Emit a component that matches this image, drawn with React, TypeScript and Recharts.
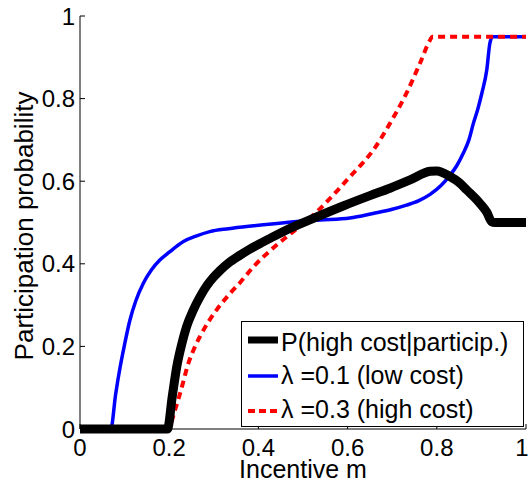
import { LineChart, Line, XAxis, YAxis, Legend } from "recharts";

// incentive m and participation probability
const lowCostM = [0, 0.069, 0.08, 0.09, 0.1, 0.112, 0.125, 0.142, 0.16, 0.179, 0.2, 0.232, 0.26, 0.291, 0.333, 0.389, 0.463, 0.538, 0.605, 0.657, 0.7, 0.732, 0.76, 0.785, 0.81, 0.83, 0.845, 0.859, 0.872, 0.882, 0.892, 0.901, 0.912, 0.919, 0.925, 1];
const lowCostP = [0, 0, 0.085, 0.15, 0.205, 0.264, 0.31, 0.353, 0.385, 0.409, 0.428, 0.454, 0.467, 0.478, 0.485, 0.492, 0.5, 0.506, 0.511, 0.522, 0.532, 0.542, 0.553, 0.568, 0.59, 0.615, 0.638, 0.667, 0.7, 0.74, 0.775, 0.813, 0.869, 0.934, 0.95, 0.95];

const highCostM = [0, 0.197, 0.213, 0.228, 0.243, 0.256, 0.269, 0.287, 0.306, 0.333, 0.36, 0.389, 0.433, 0.478, 0.531, 0.575, 0.602, 0.628, 0.658, 0.695, 0.732, 0.762, 0.785, 0.79, 1];
const highCostP = [0, 0, 0.046, 0.1, 0.159, 0.195, 0.224, 0.258, 0.288, 0.324, 0.356, 0.393, 0.438, 0.478, 0.526, 0.575, 0.607, 0.637, 0.676, 0.74, 0.813, 0.885, 0.942, 0.95, 0.95];

const condM = [0, 0.196, 0.207, 0.217, 0.228, 0.239, 0.254, 0.269, 0.285, 0.299, 0.314, 0.333, 0.359, 0.38, 0.404, 0.43, 0.463, 0.523, 0.59, 0.65, 0.695, 0.74, 0.785, 0.8, 0.83, 0.85, 0.867, 0.897, 0.912, 0.923, 0.93, 1];
const condP = [0, 0, 0.08, 0.151, 0.205, 0.248, 0.288, 0.32, 0.348, 0.367, 0.384, 0.402, 0.421, 0.435, 0.449, 0.464, 0.482, 0.51, 0.54, 0.565, 0.583, 0.603, 0.624, 0.625, 0.611, 0.597, 0.579, 0.546, 0.525, 0.502, 0.5, 0.5];

const ticks = [0, 0.2, 0.4, 0.6, 0.8, 1];
const legendLabels = ["P(high cost|particip.)", "λ =0.1 (low cost)", "λ =0.3 (high cost)"];

const toPoints = (m: number[], p: number[]) => m.map((x, i) => ({ m: x, p: p[i] }));

const font = "'Liberation Sans', Arial, sans-serif";

const LegendBox = () => (
  <svg width={284} height={107} style={{ display: "block", fontFamily: font }}>
    <rect x={0.5} y={0.5} width={282} height={105} fill="#fff" stroke="#000" />
    <line x1={7} x2={37} y1={19} y2={19} stroke="#000" strokeWidth={7} />
    <line x1={7} x2={37} y1={55} y2={55} stroke="#0000ff" strokeWidth={3.5} />
    <line x1={7} x2={37} y1={90} y2={90} stroke="#ff0000" strokeWidth={4} strokeDasharray="7 4" />
    {legendLabels.map((t, i) => (
      <text key={t} x={40} y={[30, 63, 97][i]} fontSize={25} fill="#000">
        {t}
      </text>
    ))}
  </svg>
);

const XTitle = (props: any) => {
  const { viewBox } = props;
  return (
    <text x={viewBox.x + viewBox.width / 2} y={478} textAnchor="middle" fontSize={25} fontFamily={font} fill="#000">
      Incentive m
    </text>
  );
};

const YTitle = () => (
  <text x={33} y={226} transform="rotate(-90 33 226)" textAnchor="middle" fontSize={26} fontFamily={font} fill="#000">
    Participation probability
  </text>
);

export default function App() {
  return (
    <div style={{ position: "absolute", left: 0, top: 0, background: "#fff" }}>
      <LineChart width={528} height={482} margin={{ top: 16, right: 2, bottom: 0, left: 0 }}>
        <XAxis
          dataKey="m"
          type="number"
          domain={[0, 1]}
          ticks={ticks}
          height={53}
          tickSize={-5}
          tickMargin={15}
          stroke="#000"
          tick={{ fill: "#000", fontSize: 24, fontFamily: font }}
          label={<XTitle />}
        />
        <YAxis
          type="number"
          domain={[0, 1]}
          ticks={ticks}
          width={80}
          tickSize={-5}
          tickMargin={10}
          stroke="#000"
          tick={{ fill: "#000", fontSize: 24, fontFamily: font }}
          label={<YTitle />}
        />
        <Legend
          layout="horizontal"
          verticalAlign="middle"
          align="center"
          content={<LegendBox />}
          wrapperStyle={{ left: 241, top: 321, width: 284, height: 107 }}
        />
        <Line
          data={toPoints(lowCostM, lowCostP)}
          dataKey="p"
          type="monotone"
          stroke="#0000ff"
          strokeWidth={3.5}
          dot={false}
          isAnimationActive={false}
          strokeLinejoin="round"
        />
        <Line
          data={toPoints(highCostM, highCostP)}
          dataKey="p"
          type="monotone"
          stroke="#ff0000"
          strokeWidth={4}
          strokeDasharray="7 5"
          dot={false}
          isAnimationActive={false}
        />
        <Line
          data={toPoints(condM, condP)}
          dataKey="p"
          type="monotone"
          stroke="#000"
          strokeWidth={9}
          dot={false}
          isAnimationActive={false}
          strokeLinejoin="round"
        />
      </LineChart>
    </div>
  );
}
